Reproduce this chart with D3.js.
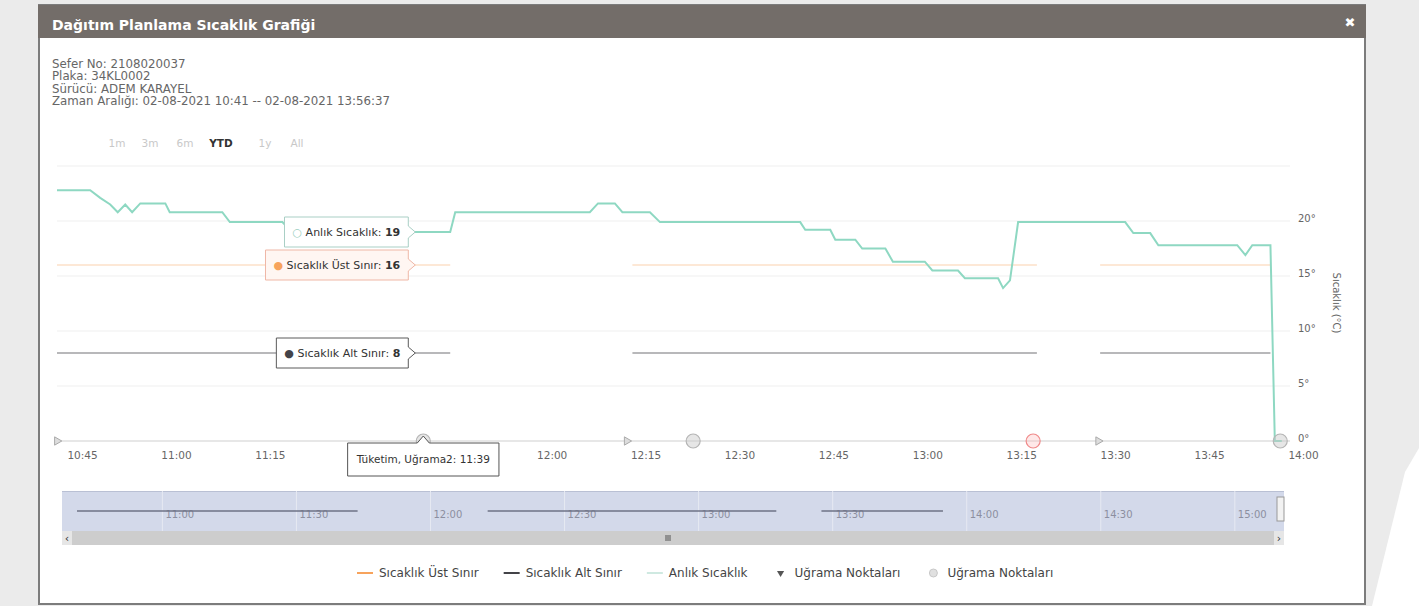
<!DOCTYPE html>
<html>
<head>
<meta charset="utf-8">
<script src="https://cdnjs.cloudflare.com/ajax/libs/d3/7.8.5/d3.min.js"></script>
<style>
  body { margin: 0; background: #ebebeb; }
  svg { display: block; font-family: "DejaVu Sans", Verdana, sans-serif; }
</style>
</head>
<body>
<svg width="1419" height="606"></svg>
<script>
// ---- data ----
var tempTimes = ["10:41:00","10:46:18","10:47:54","10:49:30","10:50:42","10:51:54","10:53:00","10:54:18","10:58:18","10:59:00",
  "11:07:24","11:08:36","11:17:00","11:18:30","11:43:48","11:44:36","12:06:06","12:07:24","12:10:06","12:11:18",
  "12:15:42","12:17:18","12:39:42","12:40:30","12:44:30","12:45:18","12:48:30","12:49:36","12:53:18","12:54:30",
  "12:59:36","13:00:48","13:04:54","13:06:00","13:11:18","13:12:06","13:13:12","13:14:30","13:31:36","13:32:54",
  "13:35:36","13:36:54","13:49:30","13:50:48","13:51:54","13:54:48","13:55:30","13:56:37"];
var tempValues = [22.8,22.8,22.1,21.5,20.8,21.5,20.8,21.6,21.6,20.8,
  20.8,19.9,19.9,19.0,19.0,20.8,20.8,21.6,21.6,20.8,
  20.8,19.9,19.9,19.2,19.2,18.3,18.3,17.5,17.5,16.3,
  16.3,15.5,15.5,14.8,14.8,13.9,14.6,19.9,19.9,18.9,
  18.9,17.8,17.8,16.9,17.8,17.8,0,0];

var limitStarts = ["10:41:00","12:12:54","13:27:36"];
var limitEnds   = ["11:43:48","13:17:30","13:54:48"];
var upperLimit = 16;
var lowerLimit = 8;

var stopTimesA = ["10:41:00","12:12:00","13:27:18"];
var stopTimesB = ["11:39:30","12:22:36","13:16:54","13:56:22"];
var hoverTime = "11:39:30";
var hoverStopName = "Tüketim, Uğrama2";

// 11:30 and 11:45 sit under the tooltip in the picture
var xTicks = ["10:45","11:00","11:15","12:00","12:15","12:30","12:45","13:00","13:15","13:30","13:45","14:00"];
var yTicks = [0, 5, 10, 15, 20];
var yGrid = [0, 5, 10, 15, 20, 25];
var navTicks = ["11:00","11:30","12:00","12:30","13:00","13:30","14:00","14:30","15:00"];
var rangeButtons = ["1m","3m","6m","YTD","1y","All"];
var infoLines = ["Sefer No: 2108020037","Plaka: 34KL0002","Sürücü: ADEM KARAYEL","Zaman Aralığı: 02-08-2021 10:41 -- 02-08-2021 13:56:37"];
var seriesNames = ["Sıcaklık Üst Sınır","Sıcaklık Alt Sınır","Anlık Sıcaklık","Uğrama Noktaları","Uğrama Noktaları"];

// ---- setup ----
var svg = d3.select("svg");
var pt = d3.timeParse("%H:%M:%S"), pm = d3.timeParse("%H:%M");
var fmt = d3.timeFormat("%H:%M");

var cGreen = "#8ed8c2", cUpper = "#f7a35c", cLower = "#434348";

// page + modal
svg.append("rect").attr("width", 1419).attr("height", 606).attr("fill", "#ebebeb");
svg.append("polygon").attr("points", "1405,472 1419,448 1419,606 1372,606").attr("fill", "#ffffff");
svg.append("rect").attr("x", 39).attr("y", 5).attr("width", 1326).attr("height", 599)
  .attr("fill", "#fff").attr("stroke", "#7c7c7c").attr("stroke-width", 2);
svg.append("rect").attr("x", 38).attr("y", 5).attr("width", 1328).attr("height", 33).attr("fill", "#736d69");
svg.append("text").attr("x", 52).attr("y", 30).text("Dağıtım Planlama Sıcaklık Grafiği")
  .attr("fill", "#fff").style("font-size", "14px").style("font-weight", "bold");
svg.append("text").attr("x", 1350).attr("y", 27).attr("text-anchor", "middle").text("✖")
  .attr("fill", "#fff").style("font-size", "13px").style("font-weight", "bold");

// info text
svg.append("g").selectAll("text").data(infoLines).enter().append("text")
  .attr("x", 52).attr("y", function(d, i) { return 68 + i * 12.4; })
  .text(function(d) { return d; })
  .attr("fill", "#666").style("font-size", "11.8px");

// range selector
var btnX = [117, 150, 185, 221, 265, 297];
svg.append("g").selectAll("text").data(rangeButtons).enter().append("text")
  .attr("x", function(d, i) { return btnX[i]; }).attr("y", 147).attr("text-anchor", "middle")
  .text(function(d) { return d; })
  .attr("fill", function(d) { return d == "YTD" ? "#333" : "#c8c8c8"; })
  .style("font-size", "10.5px").style("font-weight", function(d) { return d == "YTD" ? "bold" : "normal"; });

// ---- scales ----
var x = d3.scaleTime().domain([pt("10:41:00"), pt("14:00:00")]).range([57, 1303]);
var y = d3.scaleLinear().domain([0, 25]).range([441, 166]);
var gridRight = 1290;

// grid
svg.append("g").selectAll("line").data(yGrid).enter().append("line")
  .attr("x1", 57).attr("x2", gridRight)
  .attr("y1", function(d) { return y(d); }).attr("y2", function(d) { return y(d); })
  .attr("stroke", function(d) { return d == 0 ? "#cfcfcf" : "#efefef"; });

// y axis (right)
var yAxis = svg.append("g").attr("transform", "translate(1298,0)")
  .call(d3.axisRight(y).tickValues(yTicks).tickSize(0).tickPadding(0).tickFormat(function(d) { return d + "°"; }));
yAxis.select(".domain").remove();
yAxis.selectAll("text").attr("dy", "0.05em").attr("fill", "#666").style("font-size", "10px").style("font-family", "DejaVu Sans");
svg.append("text").attr("transform", "translate(1333,303) rotate(90)").attr("text-anchor", "middle")
  .text("Sıcaklık (°C)").attr("fill", "#666").style("font-size", "10px");

// x axis
var xAxis = svg.append("g").attr("transform", "translate(0,441)")
  .call(d3.axisBottom(x).tickValues(xTicks.map(function(d) { return pm(d); })).tickSize(0).tickPadding(11).tickFormat(fmt));
xAxis.select(".domain").remove();
xAxis.selectAll("text").attr("fill", "#666").style("font-size", "10.5px").style("font-family", "DejaVu Sans");

// ---- series ----
var temp = tempTimes.map(function(d, i) { return { t: pt(d), v: tempValues[i] }; });

function limitSeries(val) {
  var arr = [];
  limitStarts.forEach(function(s, i) {
    arr.push({ t: pt(s), v: val });
    arr.push({ t: pt(limitEnds[i]), v: val });
    arr.push(null);
  });
  return arr;
}
var line = d3.line().defined(function(d) { return d != null; })
  .x(function(d) { return x(d.t); }).y(function(d) { return y(d.v); });

svg.append("path").datum(limitSeries(upperLimit)).attr("d", line)
  .attr("fill", "none").attr("stroke", cUpper).attr("stroke-opacity", 0.25).attr("stroke-width", 2);
svg.append("path").datum(limitSeries(lowerLimit)).attr("d", line)
  .attr("fill", "none").attr("stroke", cLower).attr("stroke-opacity", 0.5).attr("stroke-width", 1.3);
svg.append("path").datum(temp).attr("d", line)
  .attr("fill", "none").attr("stroke", cGreen).attr("stroke-width", 2);

// stop markers
svg.append("g").selectAll("path").data(stopTimesA).enter().append("path")
  .attr("d", d3.symbol().type(d3.symbolTriangle).size(30))
  .attr("transform", function(d) { return "translate(" + x(pt(d)) + "," + y(0) + ") rotate(90)"; })
  .attr("fill", "#ddd").attr("stroke", "#aaa");
var highlightStop = 2;
svg.append("g").selectAll("circle").data(stopTimesB).enter().append("circle")
  .attr("cx", function(d) { return x(pt(d)); }).attr("cy", y(0)).attr("r", 7)
  .attr("fill", function(d, i) { return i == highlightStop ? "rgba(255,190,190,0.35)" : "rgba(200,200,200,0.45)"; })
  .attr("stroke", function(d, i) { return i == highlightStop ? "#f08a8a" : "#b5b5b5"; })
  .attr("stroke-width", 1.2);

// ---- split tooltip ----
var hx = x(pt(hoverTime));
var bis = d3.bisector(function(d) { return d.t; }).right;
var hi = bis(temp, pt(hoverTime)) - 1;
var hv = Math.round(temp[hi].v);
var tipItems = [
  { name: seriesNames[2], v: hv, c: cGreen, border: "#a9cfc5", fill: "#fff", sym: "○" },
  { name: seriesNames[0], v: upperLimit, c: cUpper, border: "#efb7a6", fill: "#fff6f2", sym: "●" },
  { name: seriesNames[1], v: lowerLimit, c: cLower, border: "#5a5a5a", fill: "#fff", sym: "●" }
];
var tipG = svg.append("g").style("font-size", "11px");
tipItems.forEach(function(it) {
  var cy = y(it.v);
  var g = tipG.append("g");
  var txt = g.append("text").attr("y", cy + 4).attr("fill", "#333");
  txt.append("tspan").text(it.sym + " ").attr("fill", it.sym == "○" ? "#9ccfc2" : it.c);
  txt.append("tspan").text(it.name + ": ");
  txt.append("tspan").text(it.v).style("font-weight", "bold");
  var w = txt.node().getComputedTextLength();
  var right = hx - 15, left = right - w - 16, h = 30;
  txt.attr("x", left + 8);
  g.insert("path", "text")
    .attr("d", "M" + left + "," + (cy - h / 2) + "H" + right + "V" + (cy - 6) + "L" + (right + 7) + "," + cy +
      "L" + right + "," + (cy + 6) + "V" + (cy + h / 2) + "H" + left + "Z")
    .attr("fill", it.fill).attr("stroke", it.border).attr("stroke-width", 1);
});
var hg = tipG.append("g");
var htxt = hg.append("text").attr("y", 463).attr("fill", "#333").style("font-size", "10.5px")
  .text(hoverStopName + ": " + fmt(pt(hoverTime)));
var hw = htxt.node().getComputedTextLength() + 18;
htxt.attr("x", hx - hw / 2 + 9);
hg.insert("path", "text")
  .attr("d", "M" + (hx - hw / 2) + ",443H" + (hx - 6) + "L" + hx + ",436L" + (hx + 6) + ",443H" + (hx + hw / 2) +
    "V476H" + (hx - hw / 2) + "Z")
  .attr("fill", "#fff").attr("stroke", "#555");

// ---- navigator ----
var navX = d3.scaleTime().domain([pt("10:41:00"), pt("15:10:00")]).range([77, 1279]);
var navY = d3.scaleLinear().domain([0, 16]).range([529, 493]);
svg.append("rect").attr("x", 62).attr("y", 491).attr("width", 1222).attr("height", 40).attr("fill", "#d3d9ea");
svg.append("line").attr("x1", 62).attr("x2", 1284).attr("y1", 491.5).attr("y2", 491.5).attr("stroke", "#b9c0d4");
var navAxis = svg.append("g").attr("transform", "translate(0,491)")
  .call(d3.axisBottom(navX).tickValues(navTicks.map(function(d) { return pm(d); })).tickSize(40).tickFormat(fmt));
navAxis.select(".domain").remove();
navAxis.selectAll("line").attr("stroke", "#e6e9f2");
navAxis.selectAll("text").attr("text-anchor", "start").attr("x", 3).attr("y", 27).attr("dy", 0)
  .attr("fill", "#8c8fa0").style("font-size", "10px").style("font-family", "DejaVu Sans");
var navLine = d3.line().defined(function(d) { return d != null; })
  .x(function(d) { return navX(d.t); }).y(function(d) { return navY(d.v); });
svg.append("path").datum(limitSeries(lowerLimit)).attr("d", navLine)
  .attr("fill", "none").attr("stroke", "#6f7386").attr("stroke-width", 1.5);
// handles and scrollbar
svg.append("rect").attr("x", 1277).attr("y", 497).attr("width", 7).attr("height", 24).attr("fill", "#f2f2f2").attr("stroke", "#999");
svg.append("rect").attr("x", 62).attr("y", 531).attr("width", 1222).attr("height", 14).attr("fill", "#cdcdcd");
svg.append("rect").attr("x", 62).attr("y", 531).attr("width", 10).attr("height", 14).attr("fill", "#e6e6e6");
svg.append("rect").attr("x", 1274).attr("y", 531).attr("width", 10).attr("height", 14).attr("fill", "#e6e6e6");
svg.append("text").attr("x", 67).attr("y", 542).attr("text-anchor", "middle").text("‹").attr("fill", "#333").style("font-size", "11px");
svg.append("text").attr("x", 1279).attr("y", 542).attr("text-anchor", "middle").text("›").attr("fill", "#333").style("font-size", "11px");
[-2, 0, 2].forEach(function(o) {
  svg.append("line").attr("x1", 668 + o).attr("x2", 668 + o).attr("y1", 535).attr("y2", 541).attr("stroke", "#555");
});

// ---- legend ----
var legG = svg.append("g").style("font-size", "12px");
var lx = 357, ly = 573;
seriesNames.forEach(function(name, i) {
  var g = legG.append("g");
  if (i < 3) {
    g.append("line").attr("x1", lx).attr("x2", lx + 16).attr("y1", ly).attr("y2", ly)
      .attr("stroke", [cUpper, cLower, "#cfe9e1"][i]).attr("stroke-width", 2);
  } else if (i == 3) {
    g.append("path").attr("d", d3.symbol().type(d3.symbolTriangle).size(22))
      .attr("transform", "translate(" + (lx + 8) + "," + ly + ") rotate(180)").attr("fill", "#555");
  } else {
    g.append("circle").attr("cx", lx + 8).attr("cy", ly).attr("r", 4).attr("fill", "#e0e0e0").attr("stroke", "#c8c8c8");
  }
  var t = g.append("text").attr("x", lx + 22).attr("y", ly + 4).text(name).attr("fill", "#444");
  lx += 22 + t.node().getComputedTextLength() + 25;
});
</script>
</body>
</html>
